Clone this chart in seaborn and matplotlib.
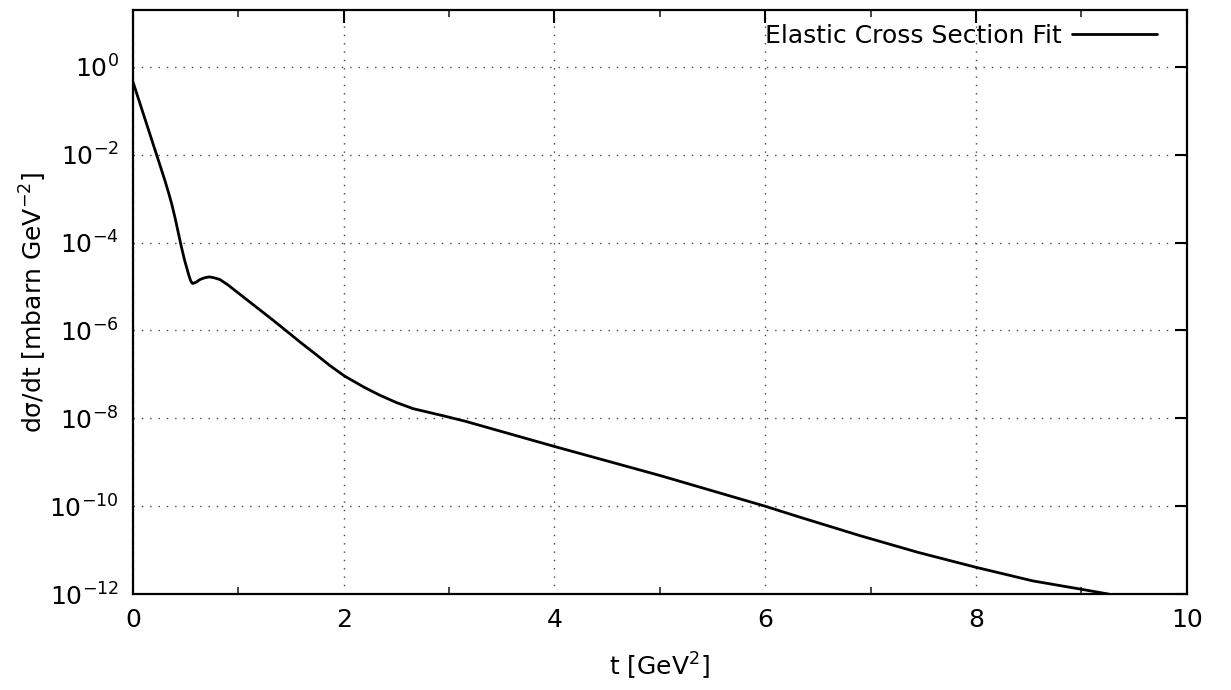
import numpy as np
import pandas as pd
import matplotlib
matplotlib.use("Agg")
import matplotlib.pyplot as plt
import seaborn as sns
from matplotlib.ticker import MultipleLocator, FixedLocator

t_vals = [0.0, 0.1, 0.2, 0.25, 0.3, 0.34, 0.37, 0.40, 0.43, 0.46, 0.49, 0.51, 0.53,
          0.545, 0.555, 0.566, 0.60, 0.636, 0.68, 0.724, 0.77, 0.825, 0.9, 0.98,
          1.14, 1.30, 1.42, 1.6, 1.75, 1.87, 2.01, 2.2, 2.34, 2.5, 2.66, 2.96, 3.16,
          4.0, 5.0, 6.0, 6.33, 6.9, 7.45, 8.0, 8.54, 9.0, 9.26]
log_sigma = [-0.34, -1.08, -1.82, -2.19, -2.56, -2.88, -3.14, -3.44, -3.77, -4.10,
             -4.40, -4.57, -4.74, -4.85, -4.90, -4.93, -4.90, -4.84, -4.80, -4.78,
             -4.80, -4.84, -4.96, -5.11, -5.41, -5.71, -5.94, -6.29, -6.57, -6.80,
             -7.04, -7.30, -7.47, -7.64, -7.78, -7.95, -8.07, -8.64, -9.3, -10.0,
             -10.25, -10.67, -11.05, -11.39, -11.70, -11.89, -12.0]
series_label = "Elastic Cross Section Fit"
y_exponents = list(range(-12, 1, 2))

df = pd.DataFrame({"t": t_vals, "sigma": [10.0 ** v for v in log_sigma]})

sns.set_theme(style="white")
plt.rcParams["font.family"] = ["DejaVu Sans"]

fig = plt.figure(figsize=(12.31, 6.90), dpi=100)
ax = fig.add_axes([0.108, 0.139, 0.856, 0.8465])

sns.lineplot(data=df, x="t", y="sigma", ax=ax, color="black", linewidth=2.0,
             label=series_label)
ax.lines[0].set_solid_joinstyle("round")

ax.set_yscale("log")
ax.set_xlim(0, 10)
ax.set_ylim(1e-12, 10 ** 1.295)

ax.xaxis.set_major_locator(MultipleLocator(2))
ax.xaxis.set_minor_locator(MultipleLocator(1))
ax.yaxis.set_major_locator(FixedLocator([10.0 ** e for e in y_exponents]))
ax.yaxis.set_minor_locator(FixedLocator([]))
ax.set_yticklabels([f"$10^{{{e}}}$" for e in y_exponents])

ax.grid(True, which="major", color="#444444", linestyle=(0, (1, 5)), linewidth=1.0)
for s in ax.spines.values():
    s.set_color("black")
    s.set_linewidth(1.6)

ax.tick_params(axis="both", which="major", direction="in", length=9, width=1.5,
               top=True, right=True, labelsize=18, colors="black", pad=10)
ax.tick_params(axis="x", which="minor", direction="in", length=5, width=1.2,
               top=True, bottom=True)

ax.set_xlabel("t [GeV$^2$]", fontsize=18, labelpad=14, color="black")
ax.set_ylabel("dσ/dt [mbarn GeV$^{-2}$]", fontsize=18, labelpad=0, color="black")

leg = ax.legend(loc="upper right", bbox_to_anchor=(1 - 16 / 1054, 1.0),
                frameon=False, markerfirst=False, fontsize=18,
                handlelength=3.4, handletextpad=0.4, borderaxespad=0.25,
                borderpad=0.3)
for txt in leg.get_texts():
    txt.set_color("black")

fig.savefig("out.png", dpi=100, facecolor="white")
